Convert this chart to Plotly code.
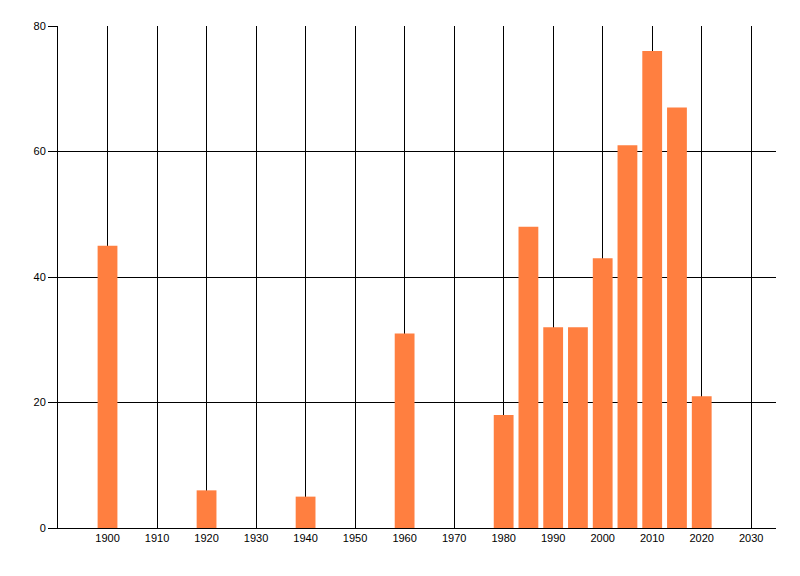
import plotly.graph_objects as go

# 연도별 값
years = [1900, 1920, 1940, 1960, 1980, 1985, 1990, 1995, 2000, 2005, 2010, 2015, 2020]
counts = [45, 6, 5, 31, 18, 48, 32, 32, 43, 61, 76, 67, 21]

x_ticks = list(range(1900, 2031, 10))
y_ticks = [0, 20, 40, 60, 80]

fig = go.Figure()
fig.add_trace(go.Bar(
    x=years,
    y=counts,
    width=4,
    marker=dict(color="#FF7F40", line=dict(width=0)),
    hoverinfo="x+y",
))

# 페이지 body 여백(8px)을 감안한 margin
fig.update_layout(
    width=800,
    height=576,
    margin=dict(l=50, r=32, t=18, b=56),
    paper_bgcolor="white",
    plot_bgcolor="white",
    showlegend=False,
    font=dict(family="Liberation Sans, Arial, sans-serif", size=11, color="black"),
)

fig.update_xaxes(
    range=[1890, 2035],
    tickvals=x_ticks,
    ticktext=[str(t) for t in x_ticks],
    showgrid=True,
    gridcolor="black",
    gridwidth=1,
    showline=True,
    linecolor="black",
    linewidth=1,
    ticks="",
    zeroline=False,
)

fig.update_yaxes(
    range=[0, 80],
    tickvals=y_ticks,
    showgrid=True,
    gridcolor="black",
    gridwidth=1,
    showline=True,
    linecolor="black",
    linewidth=1,
    ticks="outside",
    ticklen=9,
    tickcolor="black",
    zeroline=False,
)

fig.write_html("out.html")
